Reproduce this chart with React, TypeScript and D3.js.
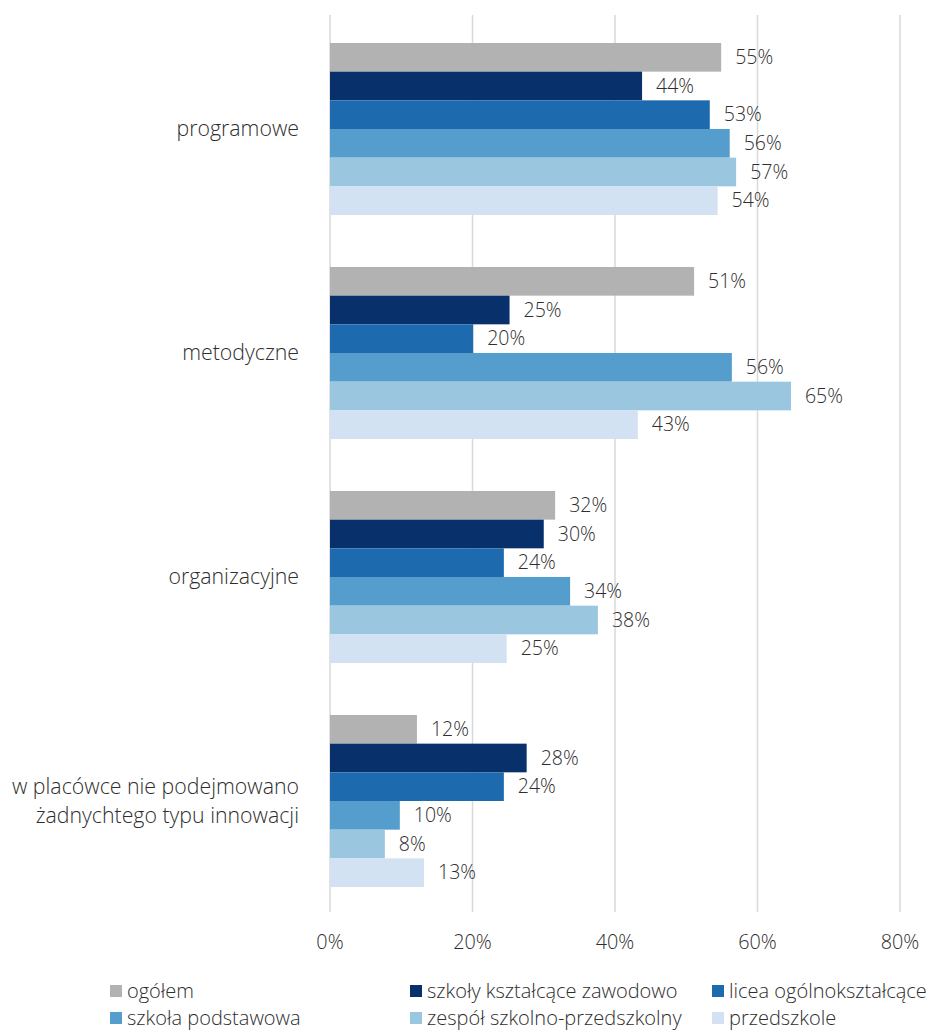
import React from "react";
import * as d3 from "d3";

const categories = [
  "programowe",
  "metodyczne",
  "organizacyjne",
  "w placówce nie podejmowano żadnychtego typu innowacji",
];
const categoryLines = [
  ["programowe"],
  ["metodyczne"],
  ["organizacyjne"],
  ["w placówce nie podejmowano", "żadnychtego typu innowacji"],
];
const seriesNames = [
  "ogółem",
  "szkoły kształcące zawodowo",
  "licea ogólnokształcące",
  "szkoła podstawowa",
  "zespół szkolno-przedszkolny",
  "przedszkole",
];
const seriesColors = ["#B2B2B2", "#08306B", "#1D6AAF", "#549DCD", "#9AC7DF", "#D2E2F2"];
// values in %, per series, per category
const ogolem = [54.9, 51.1, 31.6, 12.2];
const zawodowe = [43.8, 25.2, 30.0, 27.6];
const licea = [53.3, 20.1, 24.4, 24.4];
const podstawowa = [56.1, 56.4, 33.7, 9.8];
const zespol = [57.0, 64.7, 37.6, 7.7];
const przedszkole = [54.4, 43.2, 24.8, 13.2];
const seriesValues = [ogolem, zawodowe, licea, podstawowa, zespol, przedszkole];
const xTicks = [0, 20, 40, 60, 80];

const W = 926;
const H = 1030;
const FONT = "'Open Sans', 'Noto Sans', sans-serif";
const TEXT = "#2E2E2E";
const FW = 300;

export default function App() {
  const x = d3.scaleLinear().domain([0, 80]).range([330, 900]);
  const y0 = d3.scaleBand<string>().domain(categories).range([17, 913]).paddingInner(0.232).paddingOuter(0.116);
  const y1 = d3.scaleBand<string>().domain(seriesNames).range([0, y0.bandwidth()]);

  const legendCols = [110, 410, 712];
  const legendRows = [991, 1018];

  return (
    <svg width={W} height={H} style={{ position: "absolute", left: 0, top: 0, background: "#fff" }} fontFamily={FONT} fontWeight={FW}>
      {xTicks.map((t) => (
        <line key={"g" + t} x1={x(t)} x2={x(t)} y1={15} y2={912} stroke="#D9D9D9" strokeWidth={1.5} />
      ))}
      {categories.map((c, ci) => (
        <g key={c} transform={`translate(0,${y0(c)})`}>
          {seriesNames.map((s, si) => {
            const v = seriesValues[si][ci];
            return (
              <g key={s}>
                <rect x={x(0)} y={y1(s)} width={x(v) - x(0)} height={y1.bandwidth()} fill={seriesColors[si]} />
                <text x={x(v) + 14} y={(y1(s) as number) + y1.bandwidth() / 2} dy="0.35em" fontSize={19.5} fill={TEXT}>
                  {Math.round(v) + "%"}
                </text>
              </g>
            );
          })}
        </g>
      ))}
      {categories.map((c, ci) => {
        const lines = categoryLines[ci];
        const cy = (y0(c) as number) + y0.bandwidth() / 2;
        const lh = 29;
        return (
          <text key={"l" + c} textAnchor="end" fontSize={21.3} fill={TEXT}>
            {lines.map((ln, li) => (
              <tspan key={li} x={299} y={cy + (li - (lines.length - 1) / 2) * lh} dy="0.35em">
                {ln}
              </tspan>
            ))}
          </text>
        );
      })}
      {xTicks.map((t) => (
        <text key={"t" + t} x={x(t)} y={942} dy="0.35em" textAnchor="middle" fontSize={19.8} fill={TEXT}>
          {t + "%"}
        </text>
      ))}
      {seriesNames.map((s, si) => {
        const lx = legendCols[si % 3];
        const ly = legendRows[Math.floor(si / 3)];
        return (
          <g key={"lg" + s}>
            <rect x={lx} y={ly - 6} width={12} height={12} fill={seriesColors[si]} />
            <text x={lx + 17} y={ly} dy="0.35em" fontSize={20} fill={TEXT}>
              {s}
            </text>
          </g>
        );
      })}
    </svg>
  );
}
